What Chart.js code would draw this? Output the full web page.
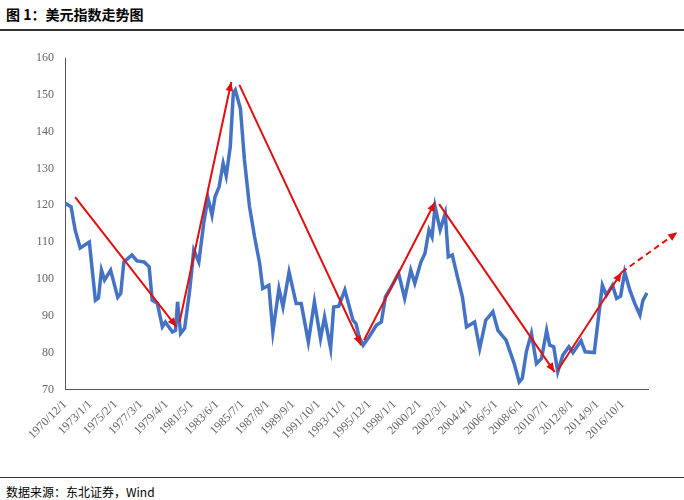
<!DOCTYPE html>
<html>
<head>
<meta charset="utf-8">
<script src="https://cdn.jsdelivr.net/npm/chart.js@4"></script>
<style>
  body { margin: 0; background: #fff; width: 684px; height: 500px; position: relative; overflow: hidden; }
  #title { position: absolute; left: 6px; top: 4px; font: bold 14px "Noto Sans CJK SC", serif; color: #000; }
  #topline { position: absolute; left: 0; top: 29px; width: 684px; height: 2px; background: #333; }
  #botline { position: absolute; left: 0; top: 477px; width: 684px; height: 1px; background: #333; }
  #source { position: absolute; left: 6px; top: 483px; font: 12px "Noto Sans CJK SC", serif; color: #000; }
  #wrap { position: absolute; left: 0; top: 40px; width: 684px; height: 405px; }
</style>
</head>
<body>
<div id="title">图 1：美元指数走势图</div>
<div id="topline"></div>
<div id="wrap"><canvas id="chart"></canvas></div>
<div id="botline"></div>
<div id="source">数据来源：东北证券，Wind</div>
<script>
// month offsets from 1970/12
const months = [0, 6, 10, 15, 24, 30, 33, 36, 39, 45, 52, 55, 58, 66, 71, 78, 83, 86, 91, 96, 99, 106, 109, 111, 114, 118,
  123, 127, 132, 137, 141, 145, 148, 152, 156, 159, 163, 166, 168, 173, 177, 182, 187, 192, 195, 201, 205, 211, 215, 221,
  228, 233, 240, 246, 252, 256, 262, 265, 270, 276, 284, 287, 290, 294, 300, 307, 312, 316, 321, 329, 335, 341, 345, 351,
  355, 359, 362, 365, 370, 375, 378, 382, 387, 392, 396, 404, 409, 415, 422, 427, 435, 443, 448, 451, 455, 460, 465, 470,
  475, 478, 482, 486, 491, 497, 501, 509, 513, 522, 530, 534, 540, 544, 548, 552, 557, 562, 567, 570, 574];
const dxy = [120.6, 119.6, 113.3, 108.4, 110, 94.2, 94.8, 102.4, 99.7, 102.4, 95, 96.1, 104.6, 106.5, 104.9, 104.6, 103.3, 94.2, 93.4, 87, 88.3, 85.6, 86, 93.8, 85.2, 86.6,
  97, 107.8, 104.6, 115.5, 122, 117.3, 122.3, 125, 131.4, 128, 135.9, 150.4, 151.3, 146.3, 132.3, 119.6, 111.4, 104.2, 97.4, 98.3, 85.6, 97.4, 92.4, 101.9,
  93.3, 93.3, 82.9, 93.8, 83.8, 89.7, 81.1, 92.4, 92.6, 97, 88.8, 87.9, 84.3, 82, 84.3, 87.4, 88.3, 95.1, 97.4, 101.5, 94.7, 102.4, 98.8, 104.6,
  106.9, 113.3, 111.4, 119.6, 113.3, 117.8, 106, 106.5, 100.6, 95.1, 87, 88.3, 81.1, 88.8, 91.1, 86, 83.4, 77, 72, 73, 80.2, 85.2, 77, 78.4,
  86, 82, 81.6, 74.8, 79.3, 81.6, 80, 83.2, 80.2, 80, 98.3, 95.6, 98.3, 94.7, 95.3, 101.9, 97, 93.3, 90.2, 94.2, 96.2];
const yTicks = [70, 80, 90, 100, 110, 120, 130, 140, 150, 160];
// trend arrows: [fromMonth, fromValue, toMonth, toValue, dashed]
const arrows = [
  [10, 122.2, 110, 87, false],
  [113, 88.3, 164, 153.5, false],
  [172, 152.7, 292, 82, false],
  [295, 83.4, 365, 120.9, false],
  [369, 120.3, 483, 74.7, false],
  [486, 75.2, 549, 101.8, false],
  [549, 101.8, 604, 112.7, true]
];

function monthLabel(i) {
  const t = 1970 * 12 + 11 + i;
  return Math.floor(t / 12) + '/' + (t % 12 + 1) + '/1';
}

const arrowPlugin = {
  id: 'arrows',
  afterDatasetsDraw(chart) {
    const { ctx, scales: { x, y } } = chart;
    ctx.save();
    ctx.strokeStyle = '#e01010';
    ctx.fillStyle = '#e01010';
    ctx.lineWidth = 2;
    arrows.forEach(a => {
      const x1 = x.getPixelForValue(a[0]), y1 = y.getPixelForValue(a[1]);
      const x2 = x.getPixelForValue(a[2]), y2 = y.getPixelForValue(a[3]);
      ctx.setLineDash(a[4] ? [6, 4] : []);
      ctx.beginPath();
      ctx.moveTo(x1, y1);
      ctx.lineTo(x2, y2);
      ctx.stroke();
      const ang = Math.atan2(y2 - y1, x2 - x1);
      ctx.setLineDash([]);
      ctx.beginPath();
      ctx.moveTo(x2, y2);
      ctx.lineTo(x2 - 10 * Math.cos(ang - 0.4), y2 - 10 * Math.sin(ang - 0.4));
      ctx.lineTo(x2 - 10 * Math.cos(ang + 0.4), y2 - 10 * Math.sin(ang + 0.4));
      ctx.closePath();
      ctx.fill();
    });
    ctx.restore();
  }
};

new Chart(document.getElementById('chart'), {
  type: 'line',
  data: {
    datasets: [{
      data: months.map((m, i) => ({ x: m, y: dxy[i] })),
      borderColor: '#4472c4',
      borderWidth: 3.5,
      pointRadius: 0,
      tension: 0
    }]
  },
  options: {
    responsive: true,
    maintainAspectRatio: false,
    animation: false,
    layout: { padding: { left: 30, right: 36, top: 18, bottom: 0 } },
    plugins: { legend: { display: false }, tooltip: { enabled: false } },
    scales: {
      x: {
        type: 'linear',
        min: 0,
        max: 575,
        grid: { display: false, drawTicks: true, tickLength: 5, color: '#555' },
        border: { color: '#555', width: 1 },
        afterBuildTicks(axis) {
          axis.ticks = [];
          for (let v = 0; v <= 575; v += 25) axis.ticks.push({ value: v });
        },
        ticks: {
          autoSkip: false,
          maxRotation: 45,
          minRotation: 45,
          color: '#666',
          font: { family: 'Liberation Serif', size: 12 },
          callback: v => v >= 575 ? '' : monthLabel(v)
        }
      },
      y: {
        min: 70,
        max: 160,
        afterBuildTicks(axis) { axis.ticks = yTicks.map(v => ({ value: v })); },
        grid: { display: false, drawTicks: true, tickLength: 5, color: '#555' },
        border: { color: '#555', width: 1 },
        ticks: { color: '#666', font: { family: 'Liberation Serif', size: 12 }, padding: 6 }
      }
    }
  },
  plugins: [arrowPlugin]
});
</script>
</body>
</html>
